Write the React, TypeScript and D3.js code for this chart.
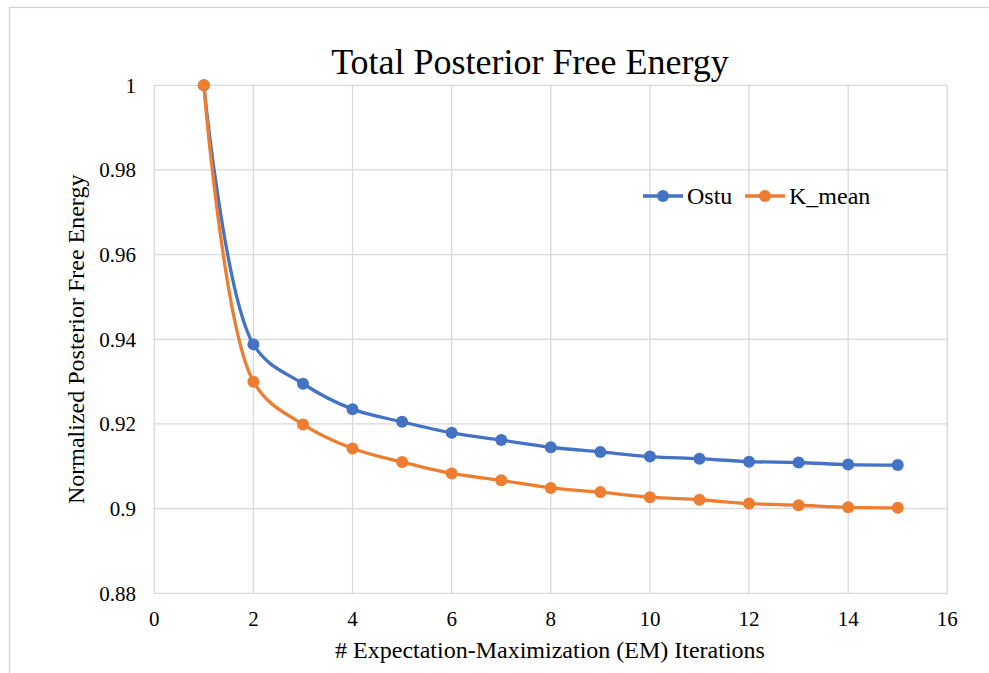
import React from "react";
import * as d3 from "d3";

const iterations = [1, 2, 3, 4, 5, 6, 7, 8, 9, 10, 11, 12, 13, 14, 15];
const ostu = [1.0, 0.9388, 0.9295, 0.9235, 0.9205, 0.9179, 0.9162, 0.9145, 0.9134, 0.9123, 0.9118, 0.9111, 0.9109, 0.9104, 0.9103];
const kMean = [1.0, 0.93, 0.9199, 0.9142, 0.911, 0.9083, 0.9067, 0.9049, 0.9039, 0.9027, 0.9021, 0.9012, 0.9008, 0.9003, 0.9002];
const xTicks = [0, 2, 4, 6, 8, 10, 12, 14, 16];
const yTicks = [0.88, 0.9, 0.92, 0.94, 0.96, 0.98, 1];

const series = [
  { name: "Ostu", values: ostu, color: "#4472C4" },
  { name: "K_mean", values: kMean, color: "#ED7D31" },
];

const W = 989;
const H = 673;
const font = "Liberation Serif, Times New Roman, serif";

export default function App() {
  const x = d3.scaleLinear().domain([0, 16]).range([154.3, 947.3]);
  const y = d3.scaleLinear().domain([0.88, 1]).range([593.3, 85.3]);

  const line = d3
    .line<number>()
    .x((_, i) => x(iterations[i]))
    .y((v) => y(v))
    .curve(d3.curveCatmullRom.alpha(0.5));

  const legend = [
    { x0: 643, text: 687 },
    { x0: 745, text: 789 },
  ];

  const txt = { fontFamily: font, fill: "#000" } as const;

  return (
    <svg
      width={W}
      height={H}
      style={{ position: "absolute", left: 0, top: 0, background: "#fff" }}
    >
      <rect x={9.5} y={7.5} width={1000} height={700} fill="#fff" stroke="#d0d0d0" strokeWidth={1.2} />

      {/* gridlines */}
      {yTicks.map((t) => (
        <line key={"gy" + t} x1={x(0)} x2={x(16)} y1={y(t)} y2={y(t)} stroke="#d9d9d9" strokeWidth={1.3} />
      ))}
      {xTicks.map((t) => (
        <line key={"gx" + t} x1={x(t)} x2={x(t)} y1={y(0.88)} y2={y(1)} stroke="#d9d9d9" strokeWidth={1.3} />
      ))}

      {/* tick labels */}
      {yTicks.map((t) => (
        <text key={"ty" + t} x={136} y={y(t)} dy="0.35em" textAnchor="end" fontSize={21} style={txt}>
          {String(+t.toFixed(2))}
        </text>
      ))}
      {xTicks.map((t) => (
        <text key={"tx" + t} x={x(t)} y={619} dy="0.35em" textAnchor="middle" fontSize={21} style={txt}>
          {t}
        </text>
      ))}

      {/* title and axis titles */}
      <text x={530} y={61} dy="0.35em" textAnchor="middle" fontSize={36} style={txt}>
        Total Posterior Free Energy
      </text>
      <text x={550} y={650} dy="0.35em" textAnchor="middle" fontSize={24} style={txt}>
        # Expectation-Maximization (EM) Iterations
      </text>
      <text
        transform={`translate(76,${(y(1) + y(0.88)) / 2}) rotate(-90)`}
        dy="0.35em"
        textAnchor="middle"
        fontSize={24}
        style={txt}
      >
        Normalized Posterior Free Energy
      </text>

      {/* series */}
      {series.map((s) => (
        <g key={s.name}>
          <path d={line(s.values) || ""} fill="none" stroke={s.color} strokeWidth={3.3} strokeLinejoin="round" />
          {s.values.map((v, i) => (
            <circle key={i} cx={x(iterations[i])} cy={y(v)} r={6} fill={s.color} />
          ))}
        </g>
      ))}

      {/* legend */}
      {series.map((s, i) => (
        <g key={"lg" + s.name}>
          <line x1={legend[i].x0} x2={legend[i].x0 + 40} y1={196} y2={196} stroke={s.color} strokeWidth={3.3} />
          <circle cx={legend[i].x0 + 20} cy={196} r={6} fill={s.color} />
          <text x={legend[i].text} y={196} dy="0.35em" fontSize={24} style={txt}>
            {s.name}
          </text>
        </g>
      ))}
    </svg>
  );
}
